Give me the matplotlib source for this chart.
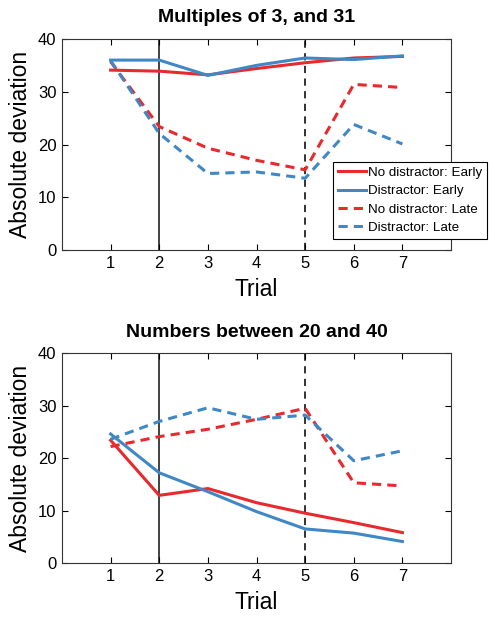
import matplotlib
matplotlib.use("Agg")
import matplotlib.pyplot as plt

plt.rcParams['font.family'] = ['Liberation Sans', 'DejaVu Sans']

trials = [1, 2, 3, 4, 5, 6, 7]
xticks = [1, 2, 3, 4, 5, 6, 7]
yticks = [0, 10, 20, 30, 40]

titles = ["Multiples of 3, and 31", "Numbers between 20 and 40"]
labels = ["No distractor: Early", "Distractor: Early", "No distractor: Late", "Distractor: Late"]

top_nd_early = [34.1, 33.9, 33.2, 34.4, 35.5, 36.4, 36.7]
top_d_early = [36.0, 36.0, 33.1, 35.0, 36.4, 36.1, 36.8]
top_nd_late = [35.7, 23.4, 19.3, 17.0, 15.2, 31.4, 30.8]
top_d_late = [35.9, 22.1, 14.5, 14.8, 13.6, 23.8, 20.1]

bot_nd_early = [23.4, 12.9, 14.2, 11.5, 9.5, 7.7, 5.8]
bot_d_early = [24.6, 17.2, 13.6, 9.8, 6.5, 5.7, 4.1]
bot_nd_late = [22.2, 24.1, 25.5, 27.4, 29.5, 15.3, 14.7]
bot_d_late = [23.6, 27.0, 29.6, 27.4, 28.2, 19.5, 21.4]

red = '#E8292E'
blue = '#3F88C5'

fig = plt.figure(figsize=(4.9, 6.17), dpi=100)
ax1 = fig.add_axes([0.1265, 0.5948, 0.794, 0.342])
ax2 = fig.add_axes([0.1265, 0.0875, 0.794, 0.340])

panels = [
    (ax1, [top_nd_early, top_d_early, top_nd_late, top_d_late]),
    (ax2, [bot_nd_early, bot_d_early, bot_nd_late, bot_d_late]),
]

for i, (ax, series) in enumerate(panels):
    ax.axvline(2, color='#333333', lw=1.3, zorder=1)
    ax.axvline(5, color='#222222', lw=1.3, ls=(0, (4, 3)), zorder=1)
    colors = [red, blue, red, blue]
    styles = ['-', '-', (0, (3, 2)), (0, (3, 2))]
    lines = []
    for s, c, st, lab in zip(series, colors, styles, labels):
        ln, = ax.plot(trials, s, color=c, ls=st, lw=2.2, label=lab, zorder=2)
        lines.append(ln)
    ax.set_xlim(0, 8)
    ax.set_ylim(0, 40)
    ax.set_xticks(xticks)
    ax.set_yticks(yticks)
    ax.tick_params(direction='in', top=True, right=True, labelsize=12, length=4, pad=4)
    ax.set_title(titles[i], fontsize=14, fontweight='bold', pad=12)
    ax.set_xlabel('Trial', fontsize=16.5, labelpad=5)
    ax.set_ylabel('Absolute deviation', fontsize=16.5, labelpad=4)
    for sp in ax.spines.values():
        sp.set_color('#333333')
    if i == 0:
        leg = ax.legend(handles=lines, loc='upper left', bbox_to_anchor=(0.697, 0.417),
                        fontsize=9.6, frameon=True, fancybox=False, framealpha=1,
                        edgecolor='black', handlelength=2.1, handletextpad=0.15,
                        borderpad=0.35, labelspacing=0.45, borderaxespad=0)
        leg.get_frame().set_linewidth(0.8)

fig.savefig('out.png', dpi=100)
